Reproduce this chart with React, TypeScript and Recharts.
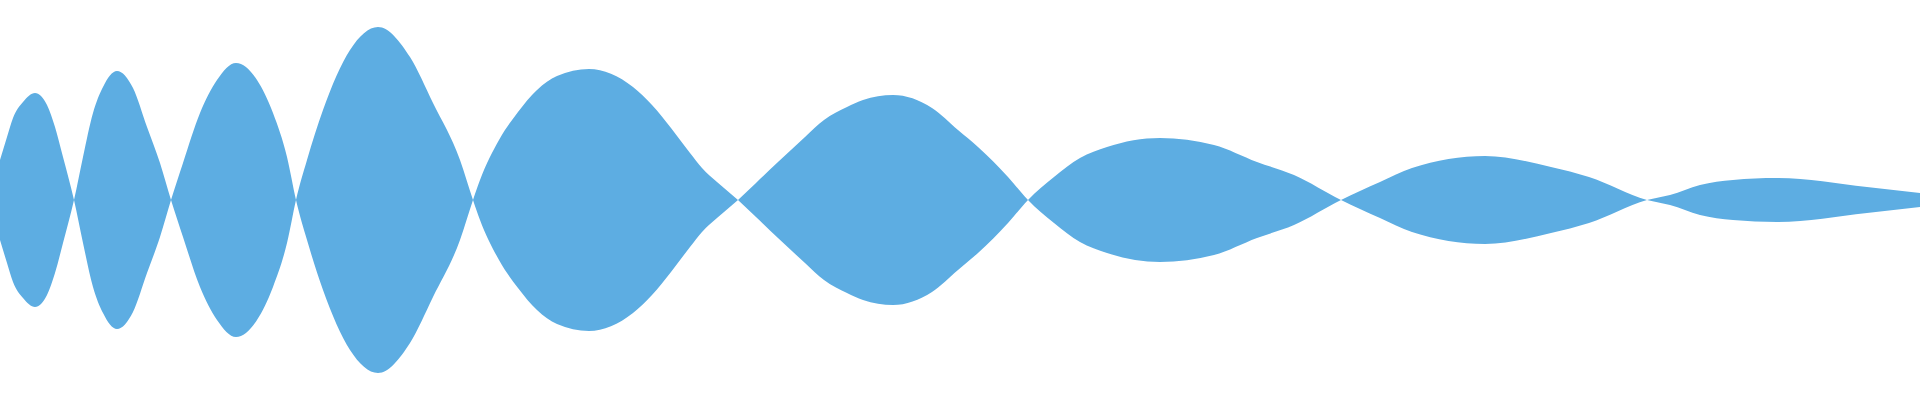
import { AreaChart, Area, XAxis, YAxis } from "recharts"

// sample times (tenths of a ms) and signed wave amplitude
const times = [
  0, 0.7, 1.3, 2.3, 3.5, 4.7, 5.5, 6.3, 7.4,
  8.3, 9.3, 10.3, 11.7, 13.3, 14.7, 16.0, 17.1,
  18.3, 20.0, 21.7, 23.6, 25.7, 27.3, 28.7, 29.6,
  30.7, 32.3, 35.0, 37.8, 41.0, 43.3, 46.0, 47.3,
  48.0, 49.9, 51.8, 53.7, 55.7, 58.9, 63.3, 65.2, 67.1, 69.0, 70.2, 71.7, 73.8,
  75.6, 77.8, 80.5, 82.4, 84.7, 86.3, 89.3, 93.2, 95.8, 97.8, 100.8, 102.8,
  105.4, 108.0, 110.7, 116.0, 121.4, 125.7, 129.4, 134.1,
  138.0, 141.2, 148.5, 155.1, 158.9, 164.7,
  167.0, 170.0, 173.3, 177.7, 186.7, 192.0,
]

const amplitude = [
  20, 31.5, 41, 49, 53.5, 47.5, 36.5, 21.5, 0,
  -21.5, -43.5, -56.5, -64.5, -56, -36.5, -18.5, 0,
  18.5, 43.5, 60, 68.5, 60, 43.5, 21.5, 0,
  -20, -45, -75, -86.5, -71.5, -48.5, -20, 0,
  10, 30, 44, 55, 62, 65.5, 56.5, 47.5, 36, 23.5, 16, 9, 0,
  -8.5, -19, -31.5, -40, -46.5, -50, -52.5, -46, -35, -26.5, -11.5, 0,
  11.5, 21, 26.5, 31, 27.5, 19, 12.5, 0,
  -9, -16, -22, -16.5, -11.5, 0,
  2.5, 7.5, 10, 11, 6.5, 3.5,
]

const data = times.map((t, i) => ({ t, amp: amplitude[i] }))

export default function App() {
  return (
    <div style={{ position: "absolute", left: 0, top: 0 }}>
      <AreaChart width={1920} height={400} data={data} margin={{ top: 0, right: 0, bottom: 0, left: 0 }}>
        <XAxis dataKey="t" type="number" domain={[0, 192]} hide />
        <YAxis type="number" domain={[-100, 100]} hide allowDataOverflow />
        <Area
          type="monotone"
          dataKey={(d) => [-d.amp, d.amp]}
          stroke="none"
          fill="#5dade2"
          fillOpacity={1}
          dot={false}
          activeDot={false}
          isAnimationActive={false}
        />
      </AreaChart>
    </div>
  )
}
